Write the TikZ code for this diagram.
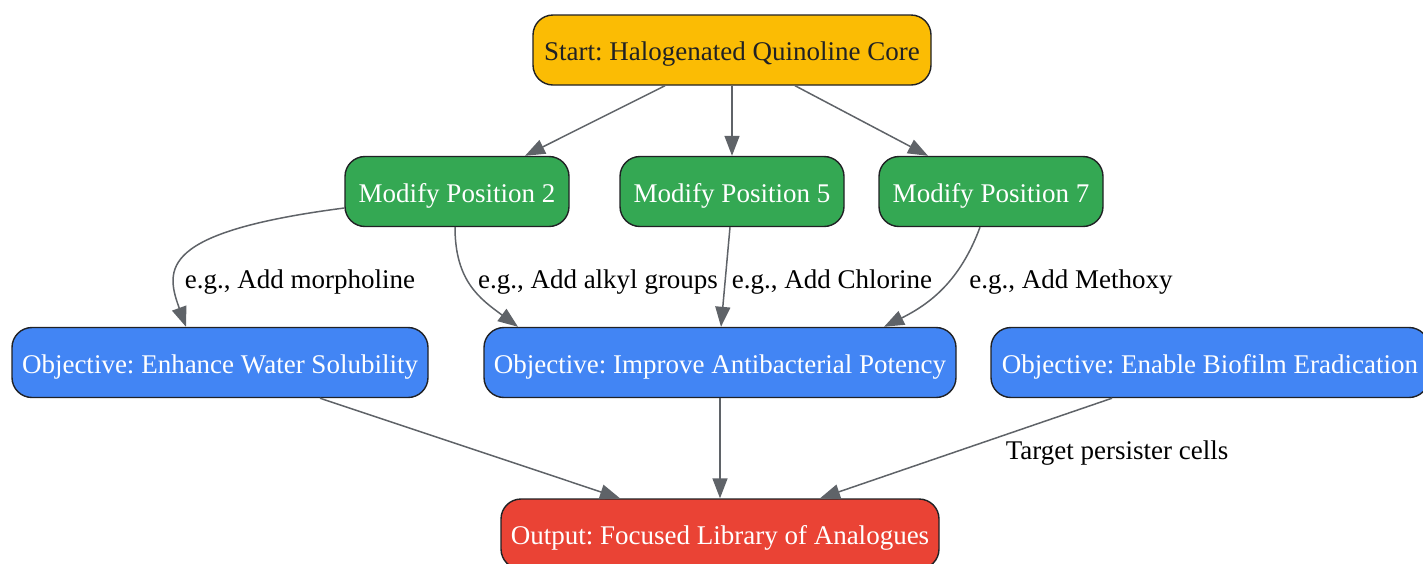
\documentclass[tikz,border=0pt]{standalone}
\usepackage{fontspec}
\setmainfont{Liberation Serif}
\frenchspacing
\usetikzlibrary{arrows.meta}
\definecolor{cYellow}{HTML}{FBBC04}
\definecolor{cGreen}{HTML}{34A853}
\definecolor{cBlue}{HTML}{4285F4}
\definecolor{cRed}{HTML}{EA4335}
\definecolor{cEdge}{HTML}{5F6368}
\definecolor{cBorder}{HTML}{202124}
\tikzset{
  box/.style={draw=cBorder, line width=0.7pt, rounded corners=10pt, minimum height=35pt,
    inner sep=0pt, text height=10.5pt, text depth=0pt, font=\fontsize{13.5}{16}\selectfont\frenchspacing, text=white},
  startbox/.style={box, fill=cYellow, text=cBorder},
  modbox/.style={box, fill=cGreen},
  objbox/.style={box, fill=cBlue},
  outbox/.style={box, fill=cRed},
  arr/.style={draw=cEdge, line width=0.75pt, -{Triangle[length=10pt,width=7.5pt]}, fill=none},
  lbl/.style={font=\fontsize{13.5}{16}\selectfont\frenchspacing, text=black, inner sep=0pt, text height=10.5pt, text depth=0pt}
}
\begin{document}
\begin{tikzpicture}[x=0.5pt,y=-0.5pt]
\useasboundingbox (0,0) rectangle (1423,563);
\node[startbox, minimum width=199pt] (s) at (732,50) {Start: Halogenated Quinoline Core};
\node[modbox, minimum width=112pt] (m2) at (457,191.5) {Modify Position 2};
\node[modbox, minimum width=112pt] (m5) at (732,191.5) {Modify Position 5};
\node[modbox, minimum width=112pt] (m7) at (991,191.5) {Modify Position 7};
\node[objbox, minimum width=208pt] (w) at (220,362.5) {Objective: Enhance Water Solubility};
\node[objbox, minimum width=236pt] (p) at (720,362.5) {Objective: Improve Antibacterial Potency};
\node[objbox, minimum width=219pt] (b) at (1210,362.5) {Objective: Enable Biofilm Eradication};
\node[outbox, minimum width=219pt] (o) at (720,534) {Output: Focused Library of Analogues};

\node[lbl] (l1) at (300,278) {e.g., Add morpholine};
\node[lbl] (l2) at (598,278) {e.g., Add alkyl groups};
\node[lbl] (l3) at (832,278) {e.g., Add Chlorine};
\node[lbl] (l4) at (1071,278) {e.g., Add Methoxy};
\node[lbl] (l5) at (1117,449) {Target persister cells};

\draw[arr] ([xshift=-33.5pt]s.south) -- ([xshift=34pt]m2.north);
\draw[arr] (s.south) -- (m5.north);
\draw[arr] ([xshift=31.5pt]s.south) -- ([xshift=-31.5pt]m7.north);

\draw[arr] ([yshift=-8.25pt]m2.west) .. controls +(-185,24) and +(-21,-58) .. ([xshift=-17pt]w.north);
\draw[arr] ([xshift=-1pt]m2.south) .. controls +(0,54) and +(-38,-28) .. ([xshift=-101pt]p.north);
\draw[arr] ([xshift=-1pt]m5.south) -- ([xshift=0.5pt]p.north);
\draw[arr] ([xshift=-5.5pt]m7.south) .. controls +(-20,54) and +(46,-23) .. ([xshift=82pt]p.north);

\draw[arr] ([xshift=50pt]w.south) -- ([xshift=-50pt]o.north);
\draw[arr] (p.south) -- (o.north);
\draw[arr] ([xshift=-49pt]b.south) -- ([xshift=50pt]o.north);
\end{tikzpicture}
\end{document}
